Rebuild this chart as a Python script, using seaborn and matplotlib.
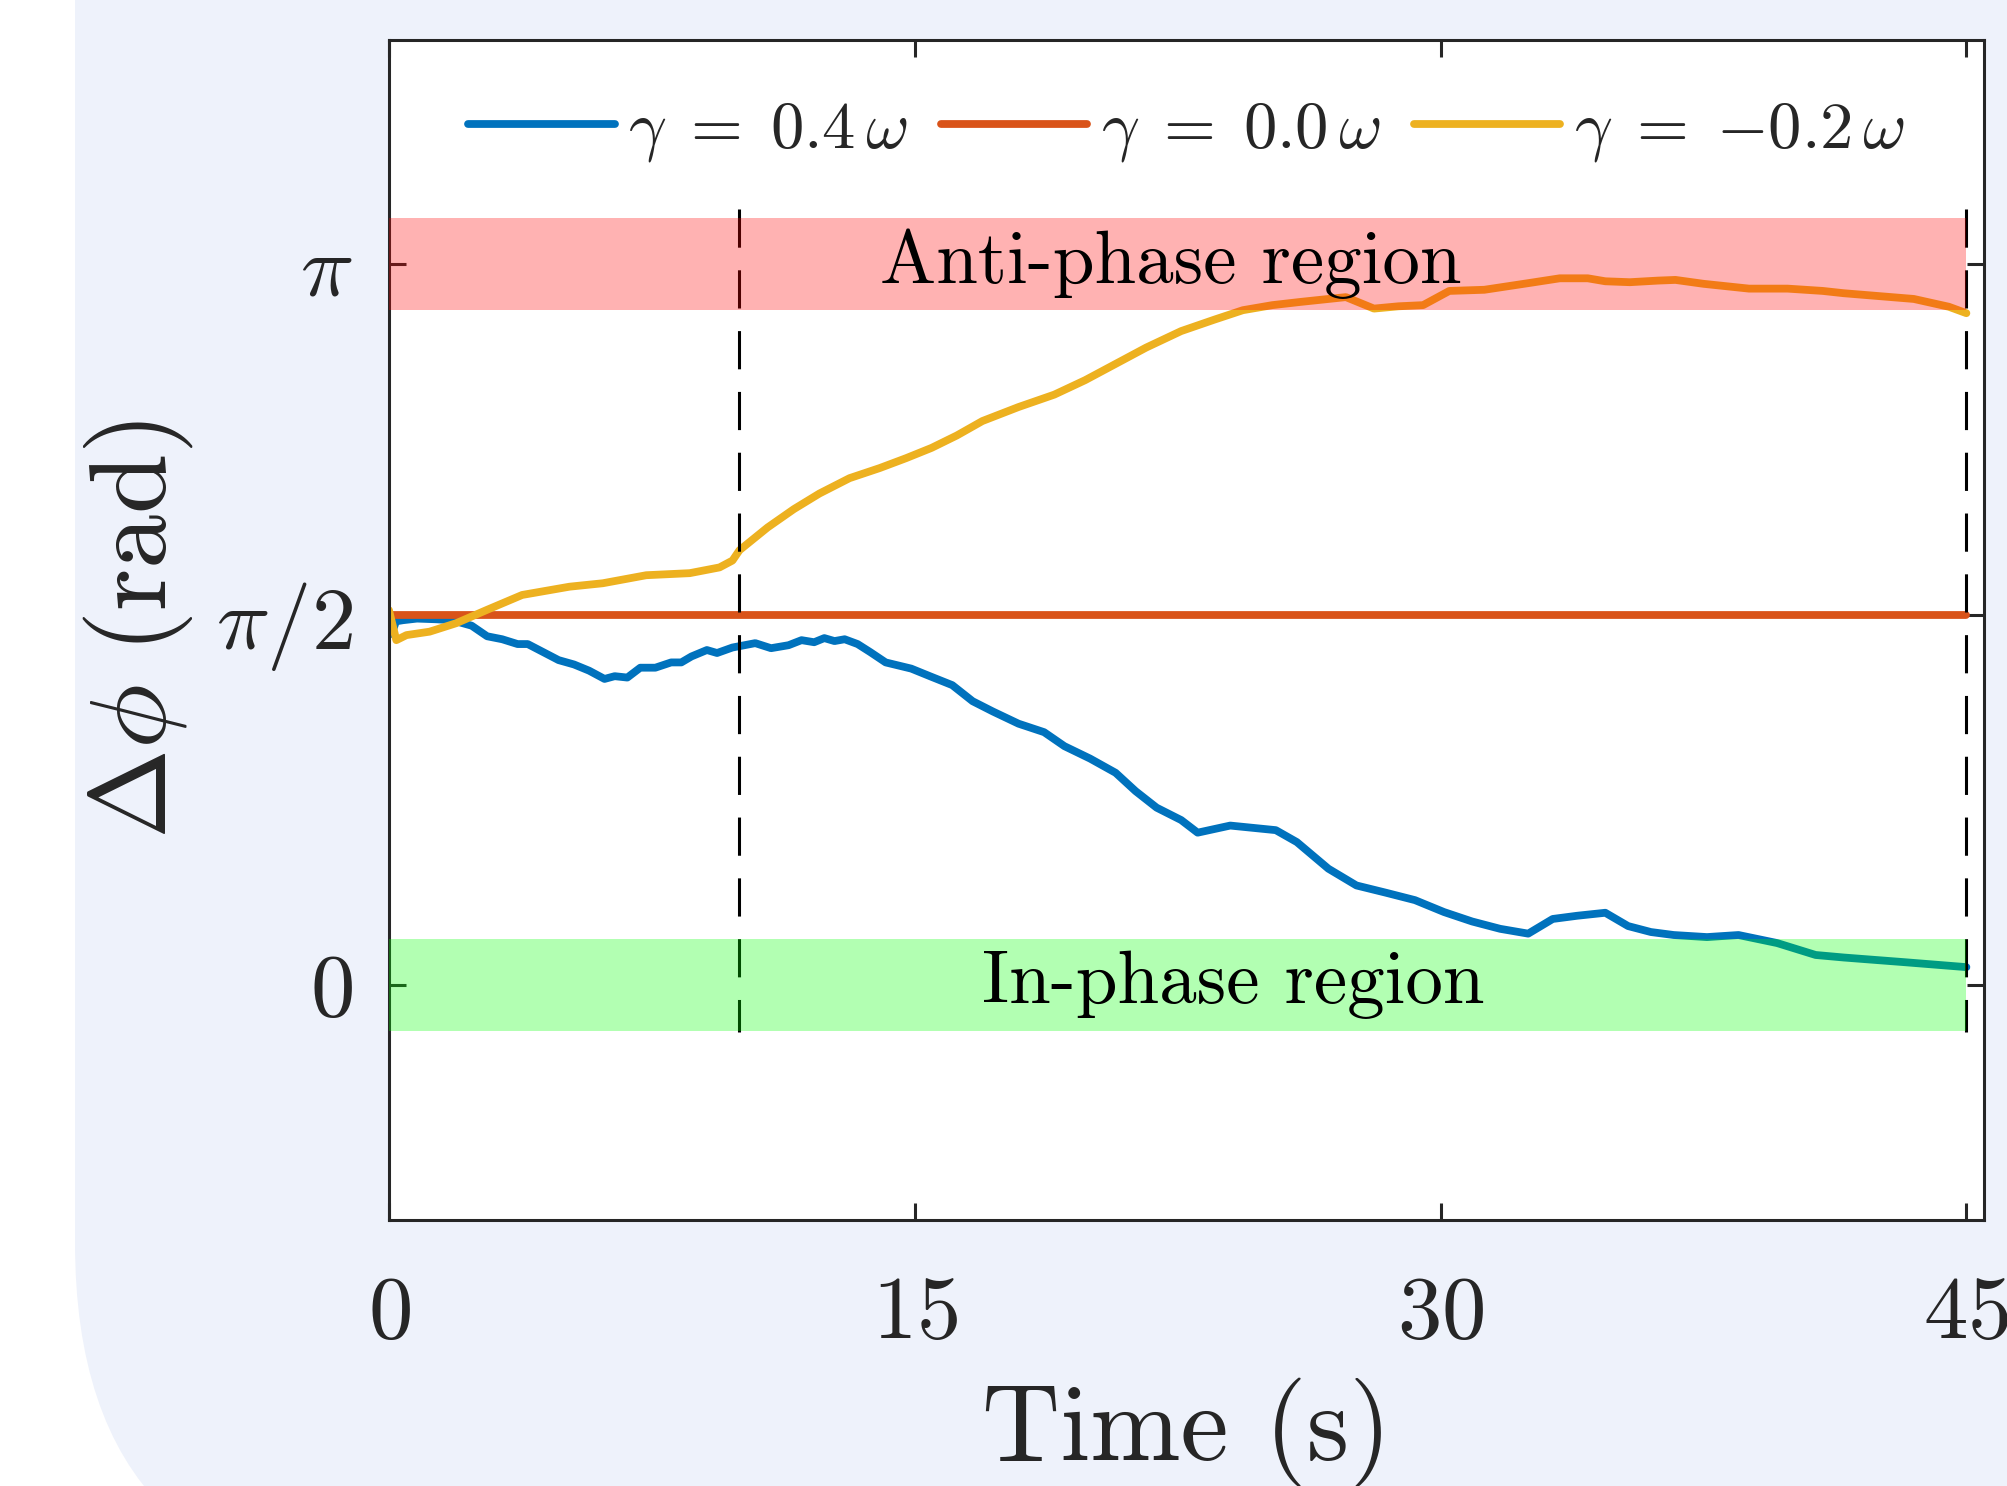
import matplotlib
matplotlib.use("Agg")
import matplotlib.pyplot as plt
import numpy as np
import pandas as pd
import seaborn as sns
from matplotlib.patches import FancyBboxPatch

# phase difference traces (time in s, phase in rad)
BLUE_T = [0.0, 0.08, 0.2, 0.4, 0.8, 1.35, 1.8, 2.36, 2.8, 3.23, 3.67, 3.96, 4.4, 4.84,
          5.28, 5.71, 6.15, 6.44, 6.8, 7.17, 7.6, 8.05, 8.34, 8.63, 9.07, 9.36, 9.8,
          10.45, 10.9, 11.4, 11.77, 12.13, 12.42, 12.71, 13.0, 13.37, 13.73, 14.17,
          14.9, 15.48, 16.07, 16.65, 17.23, 17.96, 18.69, 19.27, 20.0, 20.73, 21.3,
          21.9, 22.6, 23.07, 24.0, 25.3, 25.9, 26.8, 27.6, 28.45, 29.27, 30.1, 30.9,
          31.7, 32.5, 33.2, 33.9, 34.7, 35.35, 36.0, 36.65, 37.6, 38.5, 39.6, 40.7,
          41.5, 43.2, 45.0]
BLUE_V = [1.61, 1.53, 1.585, 1.59, 1.597, 1.594, 1.59, 1.566, 1.52, 1.507, 1.486, 1.486,
          1.451, 1.416, 1.397, 1.37, 1.334, 1.346, 1.34, 1.383, 1.383, 1.406, 1.406,
          1.432, 1.46, 1.447, 1.471, 1.49, 1.468, 1.481, 1.503, 1.494, 1.512, 1.499,
          1.507, 1.486, 1.451, 1.406, 1.379, 1.343, 1.307, 1.237, 1.192, 1.139, 1.102,
          1.041, 0.987, 0.925, 0.845, 0.773, 0.719, 0.664, 0.695, 0.675, 0.623, 0.507,
          0.434, 0.402, 0.37, 0.318, 0.277, 0.245, 0.224, 0.288, 0.302, 0.315, 0.257,
          0.231, 0.218, 0.209, 0.218, 0.183, 0.131, 0.12, 0.10, 0.078]

RED_T = [0.0, 45.0]
RED_V = [1.614, 1.614]

YELLOW_T = [0.0, 0.21, 0.5, 1.16, 1.92, 2.78, 3.8, 5.15, 6.1, 7.34, 8.58, 9.43, 9.8,
            10.0, 10.8, 11.55, 12.28, 13.14, 14.0, 14.75, 15.48, 16.2, 16.93, 17.96,
            18.98, 19.86, 20.73, 21.6, 22.6, 23.55, 24.36, 25.2, 26.0, 27.3, 28.1,
            28.8, 29.5, 30.25, 31.25, 32.55, 33.4, 34.2, 34.7, 35.4, 36.2, 36.7, 37.5,
            38.8, 39.9, 40.9, 41.5, 43.5, 44.5, 45.0]
YELLOW_V = [1.634, 1.503, 1.525, 1.54, 1.577, 1.634, 1.70, 1.736, 1.751, 1.786, 1.795,
            1.82, 1.85, 1.895, 1.994, 2.074, 2.142, 2.209, 2.253, 2.296, 2.341, 2.395,
            2.458, 2.519, 2.573, 2.636, 2.707, 2.778, 2.85, 2.90, 2.941, 2.963, 2.977,
            2.998, 2.948, 2.958, 2.963, 3.025, 3.03, 3.06, 3.08, 3.08, 3.067, 3.063,
            3.07, 3.073, 3.056, 3.035, 3.035, 3.025, 3.015, 2.99, 2.956, 2.928]

SERIES = [
    (r"$\gamma\;=\;0.4\,\omega$", BLUE_T, BLUE_V, "#0072BD"),
    (r"$\gamma\;=\;0.0\,\omega$", RED_T, RED_V, "#D95319"),
    (r"$\gamma\;=\;{-}0.2\,\omega$", YELLOW_T, YELLOW_V, "#EDB120"),
]

X_TICKS = [0, 15, 30, 45]
X_LABELS = ["$0$", "$15$", "$30$", "$45$"]
Y_TICKS = [0.0, 1.614, np.pi]
Y_LABELS = ["$0$", r"$\pi/2$", r"$\pi$"]

BAND_T = [0.0, 45.0]
BAND_HALF = 0.2
ANTI_CENTER = np.pi
IN_CENTER = 0.0
DASH_X = [10, 45]
DASH_Y = [3.38, -0.205]

sns.set_style("ticks")
plt.rcParams.update({
    "font.family": ["cmr10", "DejaVu Serif"],
    "mathtext.fontset": "cm",
    "axes.unicode_minus": False,
    "axes.linewidth": 1.1,
    "axes.edgecolor": "#262626",
    "xtick.color": "#262626",
    "ytick.color": "#262626",
})

fig = plt.figure(figsize=(10.04, 7.43), dpi=200, facecolor="white")
panel = FancyBboxPatch((0.375, -0.55), 20, 20,
                       boxstyle="round,pad=0,rounding_size=1.765",
                       transform=fig.dpi_scale_trans, facecolor="#EEF2FB",
                       edgecolor="none", zorder=0)
fig.add_artist(panel)

ax = fig.add_axes([0.1937, 0.179, 0.7943, 0.794])
ax.set_facecolor("white")

for label, t, v, color in SERIES:
    frame = pd.DataFrame({"t": t, "phase": v})
    sns.lineplot(data=frame, x="t", y="phase", color=color, linewidth=2.8,
                 label=label, ax=ax, zorder=2)

for x in DASH_X:
    ax.plot([x, x], DASH_Y, color="k", linewidth=1.1,
            linestyle=(0, (12.5, 7.4)), zorder=2)

ax.fill_between(BAND_T, ANTI_CENTER - BAND_HALF, ANTI_CENTER + BAND_HALF,
                color="#FF0000", alpha=0.3, linewidth=0, zorder=3)
ax.fill_between(BAND_T, IN_CENTER - BAND_HALF, IN_CENTER + BAND_HALF,
                color="#00FF00", alpha=0.3, linewidth=0, zorder=3)

ax.text(22.3, ANTI_CENTER, "Anti-phase region", ha="center", va="center",
        fontsize=27, color="black", zorder=5)
ax.text(24.1, IN_CENTER, "In-phase region", ha="center", va="center",
        fontsize=27, color="black", zorder=5)

ax.set_xlim(0, 45.5)
ax.set_ylim(-1.024, 4.118)
ax.set_xticks(X_TICKS, X_LABELS)
ax.set_yticks(Y_TICKS, Y_LABELS)
ax.tick_params(axis="both", which="both", direction="in", length=6, width=1.1,
               top=True, right=True)
ax.tick_params(axis="x", labelsize=32, pad=20)
ax.tick_params(axis="y", labelsize=32, pad=13)

ax.set_xlabel("Time (s)", fontsize=39, color="#262626")
ax.set_ylabel(r"$\Delta\phi\ (\mathrm{rad})$", fontsize=39, color="#262626")
ax.xaxis.set_label_coords(0.5, -0.133)
ax.yaxis.set_label_coords(-0.1216, 0.5)

ax.legend(loc="center", bbox_to_anchor=(0.5, 0.922), ncol=3, frameon=False,
          fontsize=24, handlelength=2.2, handletextpad=0.2, columnspacing=0.5)

fig.savefig("out.png", dpi=200, facecolor="white")
